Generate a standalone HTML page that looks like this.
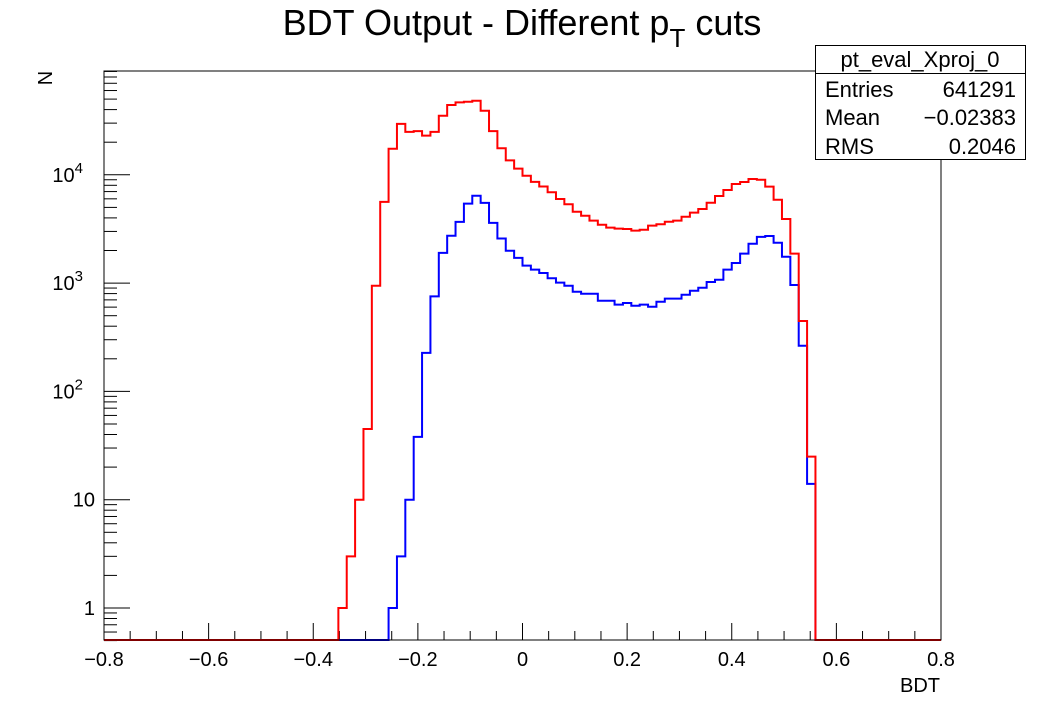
<!DOCTYPE html>
<html><head><meta charset="utf-8"><style>
html,body{margin:0;padding:0;background:#fff;}
svg{display:block;font-family:"Liberation Sans",sans-serif;}
</style></head><body>
<svg id="chart" width="1046" height="713" viewBox="0 0 1046 713" xmlns="http://www.w3.org/2000/svg">
<rect x="0" y="0" width="1046" height="713" fill="#fff"/>
<text x="522" y="35" font-size="36" text-anchor="middle">BDT Output - Different p<tspan font-size="26" dy="12">T</tspan><tspan dy="-12"> cuts</tspan></text>
<g id="axes"></g>
<g id="series"></g>
<rect x="104" y="71" width="837" height="569" fill="none" stroke="#000" stroke-width="1"/>
<text x="52" y="78" font-size="20" text-anchor="middle" transform="rotate(-90 52 78)">N</text>
<text x="940" y="692" font-size="20" text-anchor="end">BDT</text>
<g>
<rect x="815.5" y="45.5" width="210" height="114" fill="#fff" stroke="#000" stroke-width="1"/>
<line x1="815.5" y1="73.5" x2="1025.5" y2="73.5" stroke="#000"/>
<text x="920" y="67" font-size="22" text-anchor="middle">pt_eval_Xproj_0</text>
<text x="825" y="97" font-size="22">Entries</text>
<text x="1016" y="97" font-size="22" text-anchor="end">641291</text>
<text x="825" y="125" font-size="22">Mean</text>
<text x="1016" y="125" font-size="22" text-anchor="end">−0.02383</text>
<text x="825" y="154" font-size="22">RMS</text>
<text x="1016" y="154" font-size="22" text-anchor="end">0.2046</text>
</g>
</svg>
<script>
const xMin = -0.8, xMax = 0.8, nBins = 100;
const xTickLabels = ["\u22120.8","\u22120.6","\u22120.4","\u22120.2","0","0.2","0.4","0.6","0.8"];
const xTickValues = [-0.8,-0.6,-0.4,-0.2,0,0.2,0.4,0.6,0.8];
const yDecades = [0,1,2,3,4];
const yTickLabels = ["1","10","10^2","10^3","10^4"];
const redFirstBin = 28;
const redValues = [1,3,10,45,946,5630,17400,29500,24900,25300,23000,24900,35100,44100,46600,47300,48300,39000,25300,17600,13600,11400,9800,8600,7800,6900,5980,5340,4560,4190,3770,3460,3250,3180,3160,3050,3110,3390,3490,3690,3770,4100,4470,4830,5520,6370,7240,8230,8590,9150,9000,7770,5890,3910,1870,447,25];
const blueFirstBin = 34;
const blueValues = [1,3,10,38,227,754,1900,2740,3680,5420,6410,5500,3600,2580,1990,1710,1450,1330,1240,1110,1010,946,833,798,798,688,688,632,655,618,632,605,673,718,718,781,851,907,1024,1075,1330,1535,1870,2310,2670,2720,2360,1750,960,264,14];

const X0=104, X1=941, Y0=640, Y1=71;
const yPerDecade = 108.3, yOne = 608;
function sx(v){return X0+(v-xMin)/(xMax-xMin)*(X1-X0);}
function sy(v){ if(v<=0) return Y0; const y = yOne - Math.log10(v)*yPerDecade; return Math.max(Y1, Math.min(Y0, y)); }
const NS="http://www.w3.org/2000/svg";
const axes=document.getElementById('axes'), series=document.getElementById('series');
function mk(tag, attrs, parent){const e=document.createElementNS(NS,tag);for(const k in attrs)e.setAttribute(k,attrs[k]);parent.appendChild(e);return e;}

for(let i=0;i<=32;i++){
  const v=xMin+i*0.05; const x=sx(v); const major=(i%4===0);
  const t=mk('line',{x1:x,x2:x,y1:Y0,y2:Y0-(major?17:9),stroke:'#000','stroke-width':1},axes);
  
  
}
xTickValues.forEach((v,i)=>{
  const t=mk('text',{x:sx(v),y:666,'font-size':20,'text-anchor':'middle'},axes);
  t.textContent=xTickLabels[i];
  
  
});
for(let d=-1; d<=4; d++){
  for(let m=1;m<=9;m++){
    const v=m*Math.pow(10,d); if(v<0.5) continue;
    const y=yOne-Math.log10(v)*yPerDecade; if(y<Y1) continue;
    const major=(m===1);
    const t=mk('line',{x1:X0,x2:X0+(major?26:13),y1:y,y2:y,stroke:'#000','stroke-width':1},axes);
    
    
  }
}
yDecades.forEach((d,i)=>{
  const y=sy(Math.pow(10,d))+7;
  const lab=yTickLabels[i];
  const t=mk('text',{x:95,y:y,'font-size':20,'text-anchor':'end'},axes);
  if(lab.indexOf('^')>=0){
    const p=lab.split('^');
    t.setAttribute('x',83);
    t.textContent=p[0];
    const s=mk('tspan',{'font-size':15,dy:-9},t); s.textContent=p[1];
  } else t.textContent=lab;
  
  
});

function stepPath(first, vals){
  const full=new Array(nBins).fill(0);
  vals.forEach((v,i)=>{full[first+i]=v;});
  const w=(xMax-xMin)/nBins;
  let d='M'+sx(xMin)+','+sy(full[0]);
  for(let k=0;k<nBins;k++){
    const y=sy(full[k]);
    d+=' L'+sx(xMin+k*w)+','+y+' L'+sx(xMin+(k+1)*w)+','+y;
  }
  return d;
}
const blue=mk('path',{d:stepPath(blueFirstBin,blueValues),fill:'none',stroke:'#0000ff','stroke-width':2},series);


const red=mk('path',{d:stepPath(redFirstBin,redValues),fill:'none',stroke:'#ff0000','stroke-width':2},series);


</script>
</body></html>
